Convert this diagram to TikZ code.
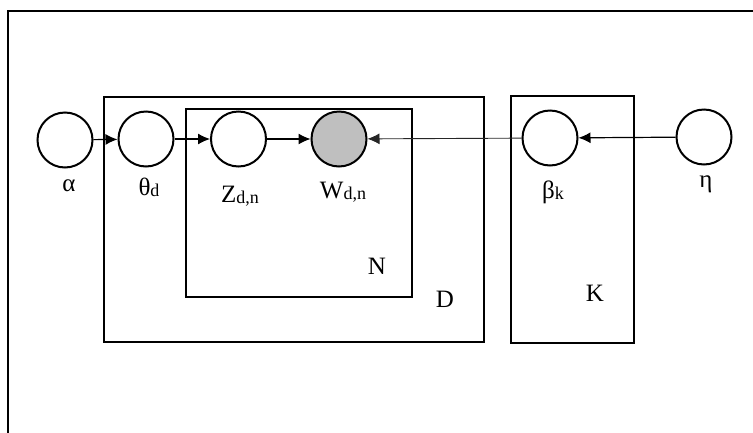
\documentclass[tikz,border=0pt]{standalone}
\usepackage{fontspec}
\setmainfont{Liberation Serif}
\usetikzlibrary{arrows.meta}
\newcommand{\sbs}[1]{\raisebox{-1.5pt}{\fontsize{18}{18}\selectfont #1}}
\tikzset{
  var/.style={circle, draw=black, line width=2pt, minimum size=55pt, inner sep=0pt},
  obs/.style={var, fill=black!25},
  plate/.style={draw=black, line width=2pt},
  lbl/.style={anchor=base, inner sep=0pt, font=\fontsize{25}{25}\selectfont},
  arr/.style={line width=1.2pt, -{Latex[length=12pt,width=11pt]}},
  thinarr/.style={line width=0.9pt, draw=black!85, -{Latex[length=12pt,width=11pt]}}
}
\begin{document}
\begin{tikzpicture}[x=1pt,y=-1pt]
\useasboundingbox (0,0) rectangle (753,432);
% outer frame (open to the right and bottom)
\draw[line width=2pt] (760,11) -- (8,11) -- (8,440);
% plates
\draw[plate] (104,97) rectangle (484,342);
\draw[plate] (186,109) rectangle (412,297);
\draw[plate] (511,96) rectangle (634,343);
% variables
\node[var] (a) at (65,140) {};
\node[var] (t) at (146,139) {};
\node[var] (z) at (238.5,139) {};
\node[obs] (w) at (339,139) {};
\node[var] (b) at (550,138) {};
\node[var] (e) at (704,137) {};
% labels
\node[lbl] (la) at (69,191) {α};
\node[lbl] (lt) at (149,195) {θ\sbs{d}};
\node[lbl] (lz) at (240,202) {Z\sbs{d,n}};
\node[lbl] (lw) at (343,198) {W\sbs{d,n}};
\node[lbl] (lb) at (553,198) {β\sbs{k}};
\node[lbl] (le) at (706,187) {η};
\node[lbl] (ln) at (377,274) {N};
\node[lbl] (ld) at (445,307) {D};
\node[lbl] (lk) at (595,301) {K};
% connectors
\draw[arr] (a) -- (t);
\draw[arr] (t) -- (z);
\draw[arr] (z) -- (w);
\draw[thinarr] (b) -- (w);
\draw[arr] (e) -- (b);
\end{tikzpicture}
\end{document}
